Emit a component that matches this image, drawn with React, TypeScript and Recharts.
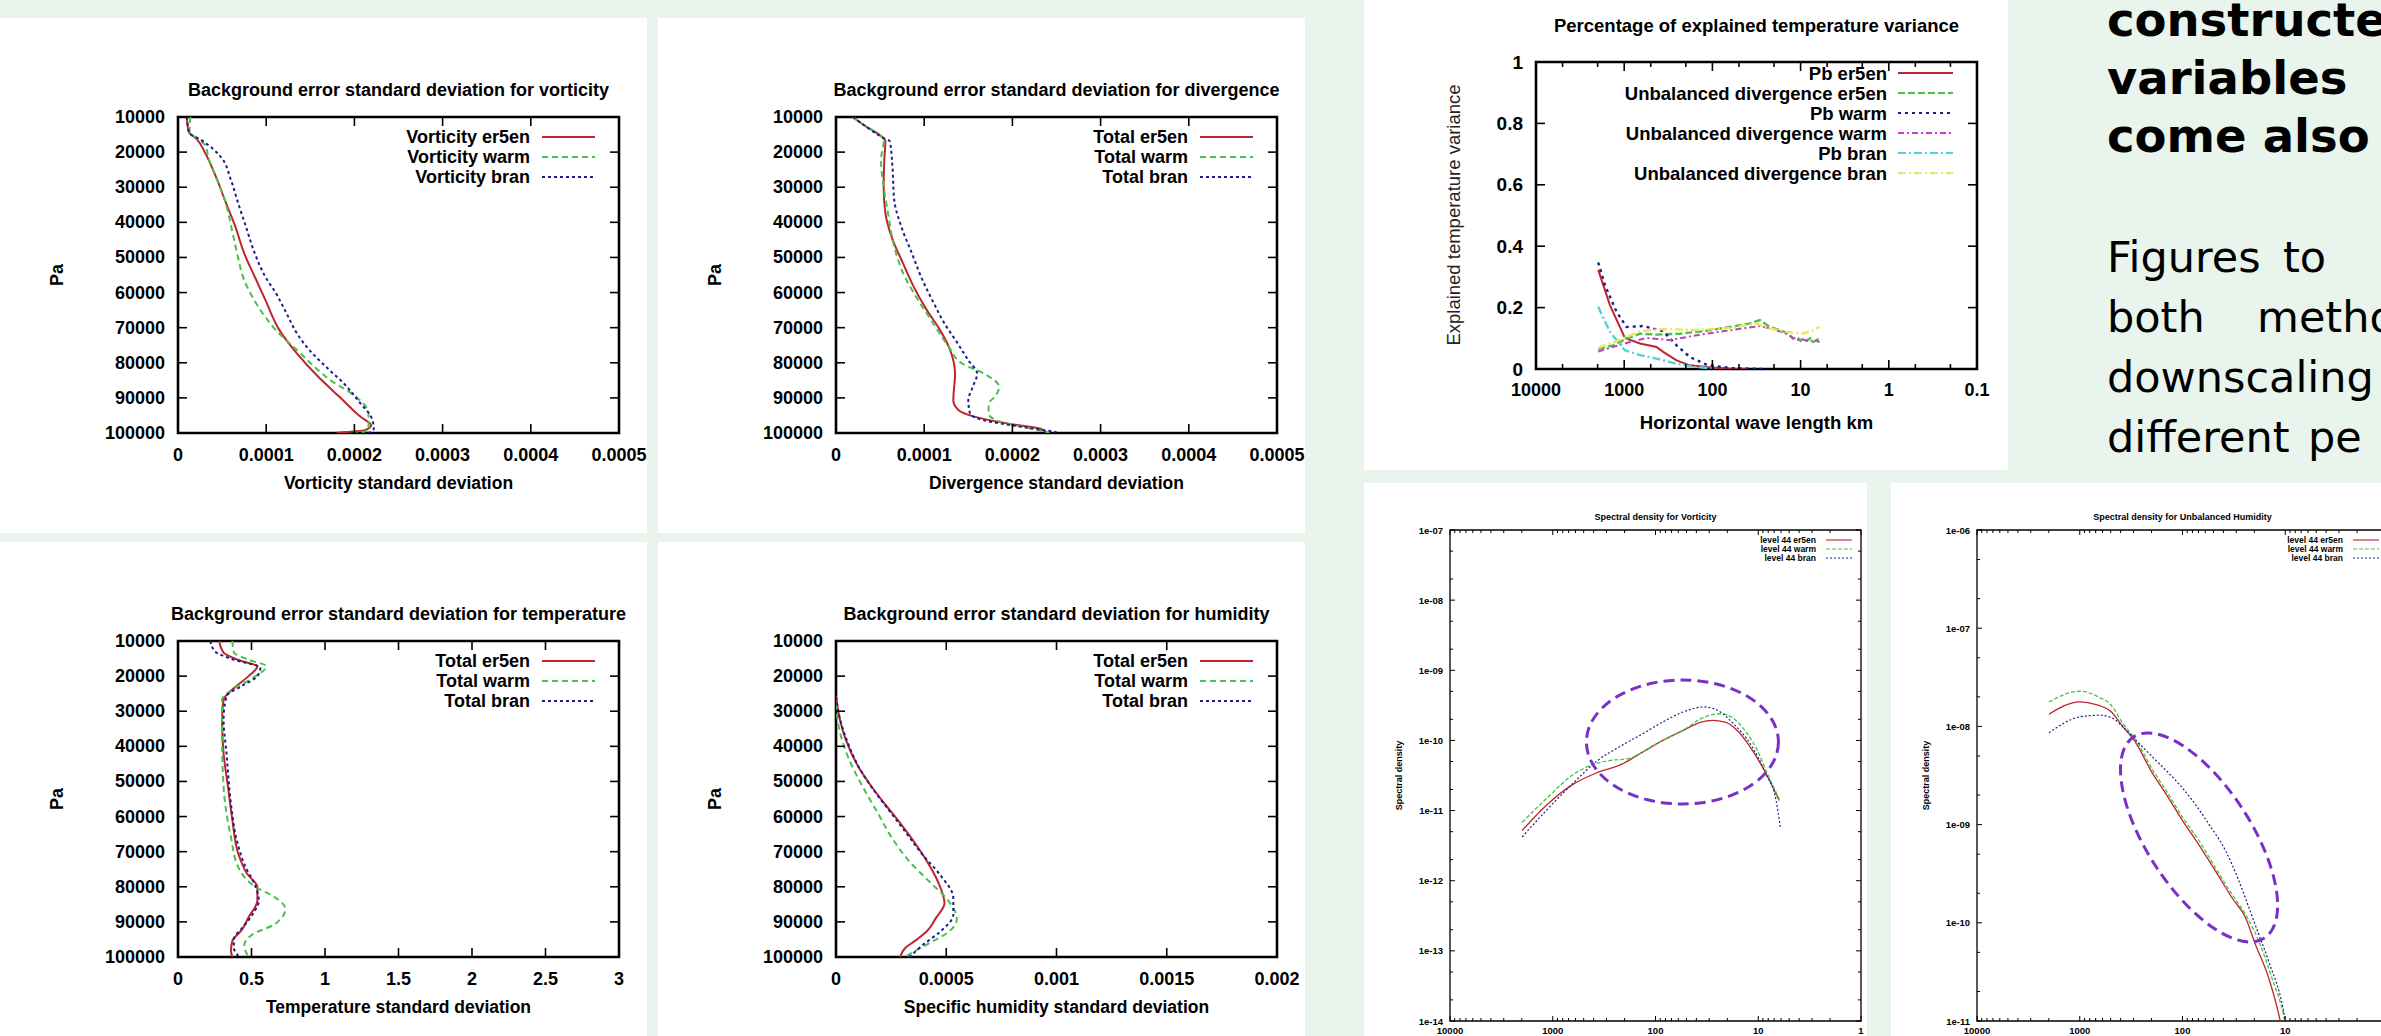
import { Line, LineChart, ReferenceArea, ReferenceDot, XAxis, YAxis } from "recharts";

type Pt = [number, number];

const GNU_FONT = '"Liberation Sans", Arial, Helvetica, sans-serif';
const POSTER_FONT = '"DejaVu Sans", Verdana, sans-serif';
const POSTER_BG = "#e9f4ec";

const RED = "#c0242c";
const GREEN = "#48c248";
const BLUE = "#1e1e8a";
const MAGENTA = "#c23ec2";
const CYAN = "#4ed4dc";
const YELLOW = "#ece65c";
const PURPLE = "#7a30c8";

/* ---------- vertical profiles (x = std dev, y = Pa) ---------- */
const PRESSURE_TICKS = [10000, 20000, 30000, 40000, 50000, 60000, 70000, 80000, 90000, 100000];
const VORT_TICKS = [0, 0.0001, 0.0002, 0.0003, 0.0004, 0.0005];
const DIV_TICKS = [0, 0.0001, 0.0002, 0.0003, 0.0004, 0.0005];
const TEMP_TICKS = [0, 0.5, 1, 1.5, 2, 2.5, 3];
const HUM_TICKS = [0, 0.0005, 0.001, 0.0015, 0.002];

const vortEr5en: Pt[] = [
  [0.10e-4, 10000], [0.12e-4, 14100], [0.22e-4, 16500], [0.31e-4, 20300], [0.43e-4, 27000],
  [0.53e-4, 33600], [0.65e-4, 41200], [0.75e-4, 48800], [0.87e-4, 55500], [0.99e-4, 62100],
  [1.15e-4, 70700], [1.35e-4, 77400], [1.59e-4, 84000], [1.83e-4, 89700], [2.07e-4, 95400],
  [2.19e-4, 97800], [2.12e-4, 99200], [1.80e-4, 99900],
];
const vortWarm: Pt[] = [
  [0.14e-4, 10000], [0.13e-4, 14100], [0.24e-4, 16500], [0.32e-4, 18400], [0.34e-4, 21200],
  [0.43e-4, 27000], [0.53e-4, 33600], [0.62e-4, 43100], [0.67e-4, 48800], [0.75e-4, 56400],
  [0.91e-4, 64000], [1.11e-4, 70700], [1.35e-4, 76400], [1.59e-4, 82100], [1.73e-4, 85000],
  [1.97e-4, 88800], [2.16e-4, 94400], [2.16e-4, 99200], [2.02e-4, 100000],
];
const vortBran: Pt[] = [
  [0.10e-4, 10000], [0.13e-4, 14600], [0.26e-4, 16500], [0.48e-4, 21200], [0.60e-4, 27900],
  [0.67e-4, 33600], [0.77e-4, 41200], [0.87e-4, 48800], [0.99e-4, 55500], [1.11e-4, 60200],
  [1.23e-4, 65900], [1.35e-4, 71700], [1.49e-4, 76400], [1.68e-4, 81200], [1.88e-4, 85900],
  [2.07e-4, 91600], [2.19e-4, 95400], [2.22e-4, 98800], [2.16e-4, 100000],
];

const divEr5en: Pt[] = [
  [0.19e-4, 10000], [0.34e-4, 12700], [0.49e-4, 15000], [0.56e-4, 16900], [0.55e-4, 21200],
  [0.54e-4, 29800], [0.56e-4, 37400], [0.63e-4, 44100], [0.76e-4, 51700], [0.88e-4, 58300],
  [1.03e-4, 65000], [1.18e-4, 70700], [1.28e-4, 75500], [1.33e-4, 79300], [1.35e-4, 83100],
  [1.33e-4, 90700], [1.39e-4, 93500], [1.58e-4, 95400], [1.97e-4, 97400], [2.32e-4, 98800],
  [2.39e-4, 100000],
];
const divWarm: Pt[] = [
  [0.19e-4, 10000], [0.34e-4, 12700], [0.49e-4, 15000], [0.54e-4, 16900], [0.51e-4, 22200],
  [0.54e-4, 29800], [0.59e-4, 37400], [0.66e-4, 46900], [0.78e-4, 55500], [0.93e-4, 62100],
  [1.08e-4, 67900], [1.28e-4, 75500], [1.43e-4, 80200], [1.68e-4, 83100], [1.85e-4, 86900],
  [1.80e-4, 89700], [1.73e-4, 91600], [1.73e-4, 94500], [1.88e-4, 96900], [2.22e-4, 98800],
  [2.42e-4, 100000],
];
const divBran: Pt[] = [
  [0.19e-4, 10000], [0.34e-4, 12700], [0.54e-4, 16000], [0.61e-4, 16900], [0.64e-4, 24100],
  [0.66e-4, 33600], [0.74e-4, 41200], [0.86e-4, 48800], [0.98e-4, 56400], [1.11e-4, 63100],
  [1.23e-4, 68800], [1.38e-4, 74500], [1.50e-4, 79300], [1.60e-4, 83100], [1.55e-4, 86900],
  [1.50e-4, 90700], [1.52e-4, 94500], [1.68e-4, 96400], [2.12e-4, 98300], [2.50e-4, 99700],
];

const tempEr5en: Pt[] = [
  [0.28, 10000], [0.31, 13300], [0.43, 15700], [0.54, 17200], [0.48, 20000], [0.37, 23800],
  [0.31, 26700], [0.30, 32400], [0.31, 42000], [0.34, 51500], [0.37, 61000], [0.41, 70600],
  [0.47, 76300], [0.54, 80100], [0.54, 83900], [0.48, 88700], [0.43, 92500], [0.37, 95400],
  [0.36, 98300], [0.37, 100000],
];
const tempWarm: Pt[] = [
  [0.37, 10000], [0.38, 13300], [0.47, 15200], [0.60, 17200], [0.51, 20500], [0.37, 23800],
  [0.30, 26700], [0.30, 37200], [0.31, 51500], [0.36, 65800], [0.41, 74400], [0.53, 80100],
  [0.66, 83000], [0.73, 86300], [0.66, 90600], [0.51, 93500], [0.45, 96800], [0.48, 100000],
];
const tempBran: Pt[] = [
  [0.22, 10000], [0.25, 12900], [0.37, 15200], [0.56, 17600], [0.54, 20000], [0.43, 22900],
  [0.33, 25700], [0.31, 32400], [0.33, 42000], [0.36, 56300], [0.40, 66800], [0.46, 74400],
  [0.52, 79200], [0.55, 83900], [0.51, 87700], [0.44, 91600], [0.38, 94900], [0.38, 97300],
  [0.41, 99700],
];

const humEr5en: Pt[] = [
  [0, 25600], [0.000016, 31800], [0.000046, 38400], [0.000095, 45100], [0.000165, 51800],
  [0.000224, 56600], [0.000284, 61300], [0.000353, 67100], [0.000413, 72800], [0.000462, 78500],
  [0.000492, 84700], [0.000452, 89000], [0.000413, 92600], [0.000363, 95200], [0.000313, 97500],
  [0.00029, 100000],
];
const humWarm: Pt[] = [
  [0, 27900], [0.000016, 35500], [0.000056, 43200], [0.000115, 50800], [0.000185, 58500],
  [0.000254, 66100], [0.000333, 72800], [0.000423, 78500], [0.000512, 84200], [0.000548, 89000],
  [0.000512, 92800], [0.000433, 95700], [0.000353, 98500], [0.000313, 100000],
];
const humBran: Pt[] = [
  [0, 26000], [0.00002, 32700], [0.000056, 39400], [0.000105, 46100], [0.000175, 52800],
  [0.000244, 58500], [0.000313, 64200], [0.000393, 70900], [0.000472, 76600], [0.000532, 83200],
  [0.000532, 88000], [0.000472, 92800], [0.000393, 96600], [0.000333, 100000],
];

/* ---------- explained temperature variance (x = wave length km) ---------- */
const VARIANCE_X_TICKS = [10000, 5000, 2000, 1000, 500, 200, 100, 50, 20, 10, 5, 2, 1, 0.5, 0.2, 0.1];
const VARIANCE_Y_TICKS = [0, 0.2, 0.4, 0.6, 0.8, 1];

const pbEr5en: Pt[] = [
  [1970, 0.323], [1452, 0.208], [982, 0.101], [664, 0.083], [430, 0.072], [361, 0.056],
  [255, 0.028], [180, 0.012], [117, 0.0065], [63, 0.001], [41, 0],
];
const udEr5en: Pt[] = [
  [1970, 0.066], [1330, 0.077], [940, 0.099], [664, 0.115], [430, 0.112], [234, 0.115],
  [127, 0.123], [63, 0.137], [38, 0.148], [29, 0.159], [22.4, 0.137], [15.8, 0.123],
  [13.5, 0.113], [12.2, 0.099], [11, 0.105], [10, 0.092], [9.4, 0.099], [8.5, 0.092],
  [7.8, 0.1], [7.2, 0.088], [6.5, 0.095], [6.1, 0.101],
];
const pbWarm: Pt[] = [
  [1970, 0.347], [1652, 0.273], [1219, 0.186], [940, 0.137], [609, 0.14], [361, 0.123],
  [255, 0.077], [180, 0.039], [117, 0.014], [63, 0.003], [27, 0],
];
const udWarm: Pt[] = [
  [1970, 0.057], [1330, 0.072], [861, 0.088], [558, 0.101], [304, 0.094], [151, 0.11],
  [76, 0.123], [41, 0.134], [29, 0.14], [20.5, 0.13], [14.5, 0.115], [11.2, 0.094],
  [9.6, 0.097], [7.9, 0.09], [6.9, 0.094], [6.1, 0.088],
];
const pbBran: Pt[] = [
  [1970, 0.203], [1452, 0.121], [982, 0.061], [664, 0.045], [430, 0.034], [255, 0.017],
  [151, 0.0065], [90, 0.001],
];
const udBran: Pt[] = [
  [1970, 0.069], [1026, 0.099], [664, 0.123], [361, 0.13], [151, 0.127], [63, 0.134],
  [31.7, 0.148], [22.4, 0.132], [14.5, 0.121], [9.4, 0.115], [7.2, 0.126], [6.1, 0.137],
];

/* ---------- spectral densities (x = wave length km) ---------- */
const SPECTRAL_X_TICKS = [
  10000, 9000, 8000, 7000, 6000, 5000, 4000, 3000, 2000, 1000, 900, 800, 700, 600, 500, 400, 300, 200,
  100, 90, 80, 70, 60, 50, 40, 30, 20, 10, 9, 8, 7, 6, 5, 4, 3, 2, 1,
];
const VORT_SPEC_Y_TICKS = [
  1e-7, 5e-8, 2e-8, 1e-8, 5e-9, 2e-9, 1e-9, 5e-10, 2e-10, 1e-10, 5e-11, 2e-11, 1e-11, 5e-12, 2e-12,
  1e-12, 5e-13, 2e-13, 1e-13, 5e-14, 2e-14, 1e-14,
];
const HUM_SPEC_Y_TICKS = [
  1e-6, 5e-7, 2e-7, 1e-7, 5e-8, 2e-8, 1e-8, 5e-9, 2e-9, 1e-9, 5e-10, 2e-10, 1e-10, 5e-11, 2e-11, 1e-11,
];

const vortSpecEr5en: Pt[] = [
  [1985, 5.2e-12], [1159, 1.18e-11], [625, 2.4e-11], [365, 3.5e-11], [212, 4.6e-11], [134, 6.8e-11],
  [85, 1.0e-10], [54, 1.39e-10], [36, 1.83e-10], [28, 1.93e-10], [21, 1.83e-10], [15.5, 1.32e-10],
  [11.4, 7.2e-11], [8.7, 3.7e-11], [7.2, 2.15e-11], [6.25, 1.39e-11],
];
const vortSpecWarm: Pt[] = [
  [1985, 6.8e-12], [1159, 1.47e-11], [625, 3.3e-11], [396, 4.6e-11], [272, 5.2e-11], [184, 5.5e-11],
  [134, 6.8e-11], [85, 1.0e-10], [54, 1.39e-10], [33.7, 2.15e-10], [22.8, 2.4e-10], [18.2, 2.15e-10],
  [13.5, 1.39e-10], [10.2, 7.2e-11], [8.1, 3.3e-11], [6.25, 1.47e-11],
];
const vortSpecBran: Pt[] = [
  [1985, 4.2e-12], [1159, 1.0e-11], [625, 2.5e-11], [365, 5.2e-11], [212, 8.5e-11], [134, 1.24e-10],
  [85, 1.83e-10], [54, 2.54e-10], [33.7, 3.0e-10], [24.9, 2.68e-10], [17.4, 1.73e-10], [11.4, 8.0e-11],
  [8.4, 3.3e-11], [6.7, 1.39e-11], [6.1, 5.8e-12],
];

const humSpecEr5en: Pt[] = [
  [1995, 1.33e-8], [1000, 1.78e-8], [692, 1.67e-8], [494, 1.41e-8], [380, 9.9e-9], [295, 7.2e-9],
  [195, 3.3e-9], [145, 2.06e-9], [100, 1.1e-9], [74, 6.9e-10], [48, 3.4e-10], [33, 1.8e-10],
  [24.4, 1.13e-10], [19.5, 6.0e-11], [14.5, 2.75e-11], [11.2, 1e-11], [10.5, 7e-12],
];
const humSpecWarm: Pt[] = [
  [1995, 1.78e-8], [1000, 2.28e-8], [662, 2.0e-8], [494, 1.64e-8], [380, 1.07e-8], [283, 7.2e-9],
  [195, 3.6e-9], [145, 2.23e-9], [100, 1.19e-9], [69, 6.85e-10], [48, 3.66e-10], [33, 1.95e-10],
  [24.4, 1.22e-10], [18.1, 6.5e-11], [13.5, 2.75e-11], [10.1, 1e-11], [9.5, 7e-12],
];
const humSpecBran: Pt[] = [
  [1995, 8.6e-9], [1000, 1.25e-8], [640, 1.3e-8], [494, 1.23e-8], [380, 9.9e-9], [283, 7.2e-9],
  [181, 4.5e-9], [116, 2.8e-9], [80, 1.76e-9], [55, 1.0e-9], [38, 5.4e-10], [28.3, 2.68e-10],
  [22.6, 1.43e-10], [18.1, 7.6e-11], [14.5, 4.07e-11], [10, 1e-11], [9.5, 7e-12],
];

// purple circled areas: centre in data coords, radii in px, rotation in degrees
const VORT_ELLIPSE = { x: 54.7, y: 9.5e-11, rx: 96, ry: 62, rot: 0 };
const HUM_ELLIPSE = { x: 69, y: 7.4e-10, rx: 120, ry: 52, rot: 57 };

const POSTER_BOLD = ["constructe", "variables", "come also"];
const POSTER_TEXT: string[][] = [["Figures", "to"], ["both", "metho"], ["downscaling"], ["different", "pe"]];
const POSTER_WORD_X = [[26, 202], [26, 176], [26], [26, 227]];

/* ---------- helpers ---------- */
const toPts = (rows: Pt[]) => rows.map(([x, y]) => ({ x, y }));

const isDecade = (v: number) => {
  const l = Math.log10(v);
  return Math.abs(l - Math.round(l)) < 1e-6;
};

type Series = { name: string; color: string; dash?: string; width: number; data: Pt[] };

type Deco = {
  plotW: number;
  plotH: number;
  major: number;
  minor: number;
  gap: number;
  fontSize: number;
  strokeW: number;
  fmt: (v: number) => string;
  isMinor?: (v: number) => boolean;
  labelMaxX?: number;
};

function XTick(props: any) {
  const { x, y, payload, deco } = props as { x: number; y: number; payload: { value: number }; deco: Deco };
  const minor = deco.isMinor ? deco.isMinor(payload.value) : false;
  const len = minor ? deco.minor : deco.major;
  const showLabel = !minor && (deco.labelMaxX === undefined || x <= deco.labelMaxX);
  return (
    <g>
      <line x1={x} y1={y} x2={x} y2={y - len} stroke="#000" strokeWidth={deco.strokeW} />
      <line x1={x} y1={y - deco.plotH} x2={x} y2={y - deco.plotH + len} stroke="#000" strokeWidth={deco.strokeW} />
      {showLabel && (
        <text x={x} y={y + deco.gap} textAnchor="middle" dominantBaseline="central" fontSize={deco.fontSize}
          fontFamily={GNU_FONT} fontWeight={700} fill="#000">
          {deco.fmt(payload.value)}
        </text>
      )}
    </g>
  );
}

function YTick(props: any) {
  const { x, y, payload, deco } = props as { x: number; y: number; payload: { value: number }; deco: Deco };
  const minor = deco.isMinor ? deco.isMinor(payload.value) : false;
  const len = minor ? deco.minor : deco.major;
  return (
    <g>
      <line x1={x} y1={y} x2={x + len} y2={y} stroke="#000" strokeWidth={deco.strokeW} />
      <line x1={x + deco.plotW} y1={y} x2={x + deco.plotW - len} y2={y} stroke="#000" strokeWidth={deco.strokeW} />
      {!minor && (
        <text x={x - deco.gap} y={y} textAnchor="end" dominantBaseline="central" fontSize={deco.fontSize}
          fontFamily={GNU_FONT} fontWeight={700} fill="#000">
          {deco.fmt(payload.value)}
        </text>
      )}
    </g>
  );
}

function Legend({ items, right, top, step, x1, x2, fontSize, lineW }: {
  items: Series[]; right: number; top: number; step: number; x1: number; x2: number; fontSize: number; lineW: number;
}) {
  return (
    <g>
      {items.map((s, i) => (
        <g key={s.name}>
          <text x={right} y={top + i * step} textAnchor="end" dominantBaseline="central" fontSize={fontSize}
            fontFamily={GNU_FONT} fontWeight={700} fill="#000">
            {s.name}
          </text>
          <line x1={x1} x2={x2} y1={top + i * step} y2={top + i * step} stroke={s.color} strokeWidth={lineW}
            strokeDasharray={s.dash} />
        </g>
      ))}
    </g>
  );
}

function Panel({ left, top, width, height, children }: {
  left: number; top: number; width: number; height: number; children: React.ReactNode;
}) {
  return (
    <div style={{ position: "absolute", left, top, width, height, background: "#fff", overflow: "hidden" }}>
      {children}
    </div>
  );
}

function Overlay({ w, h, children }: { w: number; h: number; children: React.ReactNode }) {
  return (
    <svg width={w} height={h} style={{ position: "absolute", left: 0, top: 0, pointerEvents: "none" }}>
      {children}
    </svg>
  );
}

/* ---------- profile chart ---------- */
const PW = 647;
const P_LEFT = 178;
const P_TOP = 99;
const P_W = 441;
const P_H = 316;

function ProfileChart({ left, top, height, title, xLabel, xTicks, series }: {
  left: number; top: number; height: number; title: string; xLabel: string; xTicks: number[]; series: Series[];
}) {
  const xMax = xTicks[xTicks.length - 1];
  const deco: Deco = { plotW: P_W, plotH: P_H, major: 9, minor: 9, gap: 22, fontSize: 18, strokeW: 1.6, fmt: (v) => String(v) };
  return (
    <Panel left={left} top={top} width={PW} height={height}>
      <LineChart width={PW} height={height}
        margin={{ top: P_TOP, right: PW - P_LEFT - P_W, bottom: height - P_TOP - P_H - 20, left: 0 }}>
        <XAxis type="number" dataKey="x" domain={[0, xMax]} ticks={xTicks} interval={0} height={20}
          tickSize={0} tickMargin={0} axisLine={false} tickLine={false} allowDataOverflow
          tick={<XTick deco={deco} />} />
        <YAxis type="number" domain={[10000, 100000]} reversed ticks={PRESSURE_TICKS} interval={0} width={P_LEFT}
          tickSize={0} tickMargin={0} axisLine={false} tickLine={false} allowDataOverflow
          tick={<YTick deco={{ ...deco, gap: 13 }} />} />
        {series.map((s) => (
          <Line key={s.name} data={toPts(s.data)} dataKey="y" type="monotoneY" stroke={s.color} strokeWidth={s.width}
            strokeDasharray={s.dash} dot={false} isAnimationActive={false} />
        ))}
        <ReferenceArea x1={0} x2={xMax} y1={10000} y2={100000} fill="none" stroke="#000" strokeWidth={2.6}
          fillOpacity={0} />
      </LineChart>
      <Overlay w={PW} h={height}>
        <text x={P_LEFT + P_W / 2} y={72} textAnchor="middle" dominantBaseline="central" fontSize={18}
          fontFamily={GNU_FONT} fontWeight={700}>{title}</text>
        <text x={P_LEFT + P_W / 2} y={465} textAnchor="middle" dominantBaseline="central" fontSize={17.5}
          fontFamily={GNU_FONT} fontWeight={700}>{xLabel}</text>
        <text x={57} y={P_TOP + P_H / 2} textAnchor="middle" dominantBaseline="central" fontSize={18}
          fontFamily={GNU_FONT} fontWeight={700} transform={`rotate(-90 57 ${P_TOP + P_H / 2})`}>Pa</text>
        <Legend items={series} right={530} top={119} step={20} x1={542} x2={595} fontSize={18} lineW={2} />
      </Overlay>
    </Panel>
  );
}

/* ---------- variance chart ---------- */
const V_PANEL = { left: 1364, top: 0, w: 644, h: 470 };
const V_LEFT = 172;
const V_TOP = 62;
const V_W = 441;
const V_H = 307;

function VarianceChart({ series }: { series: Series[] }) {
  const { w, h } = V_PANEL;
  const deco: Deco = {
    plotW: V_W, plotH: V_H, major: 9, minor: 5, gap: 21, fontSize: 18, strokeW: 1.6,
    fmt: (v) => String(v), isMinor: (v) => !isDecade(v),
  };
  return (
    <Panel left={V_PANEL.left} top={V_PANEL.top} width={w} height={h}>
      <LineChart width={w} height={h} margin={{ top: V_TOP, right: w - V_LEFT - V_W, bottom: h - V_TOP - V_H - 20, left: 0 }}>
        <XAxis type="number" dataKey="x" scale="log" domain={[0.1, 10000]} reversed ticks={VARIANCE_X_TICKS}
          interval={0} height={20} tickSize={0} tickMargin={0} axisLine={false} tickLine={false} allowDataOverflow
          tick={<XTick deco={deco} />} />
        <YAxis type="number" domain={[0, 1]} ticks={VARIANCE_Y_TICKS} interval={0} width={V_LEFT} tickSize={0}
          tickMargin={0} axisLine={false} tickLine={false} allowDataOverflow
          tick={<YTick deco={{ ...deco, gap: 13, fontSize: 19, isMinor: undefined }} />} />
        {series.map((s) => (
          <Line key={s.name} data={toPts(s.data)} dataKey="y" type="linear" stroke={s.color} strokeWidth={s.width}
            strokeDasharray={s.dash} dot={false} isAnimationActive={false} />
        ))}
        <ReferenceArea x1={0.1} x2={10000} y1={0} y2={1} fill="none" fillOpacity={0} stroke="#000" strokeWidth={2.6} />
      </LineChart>
      <Overlay w={w} h={h}>
        <text x={V_LEFT + V_W / 2} y={25} textAnchor="middle" dominantBaseline="central" fontSize={18.5}
          fontFamily={GNU_FONT} fontWeight={700}>Percentage of explained temperature variance</text>
        <text x={V_LEFT + V_W / 2} y={422} textAnchor="middle" dominantBaseline="central" fontSize={18.5}
          fontFamily={GNU_FONT} fontWeight={700}>Horizontal wave length km</text>
        <text x={89} y={215} textAnchor="middle" dominantBaseline="central" fontSize={18.5} fill="#222"
          fontFamily={GNU_FONT} transform="rotate(-90 89 215)">Explained temperature variance</text>
        <Legend items={series} right={523} top={73} step={20} x1={534} x2={589} fontSize={18.5} lineW={2} />
      </Overlay>
    </Panel>
  );
}

/* ---------- spectral density chart ---------- */
const S_W = 503;
const S_H = 553;
const S_LEFT = 86;
const S_TOP = 47;
const S_PW = 411;
const S_PH = 491;

const fmtExp = (v: number) => `1e-${String(Math.round(-Math.log10(v))).padStart(2, "0")}`;

function SpectralChart({ left, title, yDomain, yTicks, series, ellipse, visibleW }: {
  left: number; title: string; yDomain: [number, number]; yTicks: number[]; series: Series[];
  ellipse: { x: number; y: number; rx: number; ry: number; rot: number }; visibleW: number;
}) {
  const deco: Deco = {
    plotW: S_PW, plotH: S_PH, major: 5, minor: 3, gap: 9, fontSize: 9.5, strokeW: 1,
    fmt: (v) => String(v), isMinor: (v) => !isDecade(v), labelMaxX: visibleW - 6,
  };
  return (
    <Panel left={left} top={483} width={S_W} height={S_H}>
      <LineChart width={S_W} height={S_H} margin={{ top: S_TOP, right: S_W - S_LEFT - S_PW, bottom: S_H - S_TOP - S_PH - 5, left: 0 }}>
        <XAxis type="number" dataKey="x" scale="log" domain={[1, 10000]} reversed ticks={SPECTRAL_X_TICKS}
          interval={0} height={5} tickSize={0} tickMargin={0} axisLine={false} tickLine={false} allowDataOverflow
          tick={<XTick deco={deco} />} />
        <YAxis type="number" scale="log" domain={yDomain} ticks={yTicks} interval={0} width={S_LEFT} tickSize={0}
          tickMargin={0} axisLine={false} tickLine={false} allowDataOverflow
          tick={<YTick deco={{ ...deco, gap: 7, fmt: fmtExp }} />} />
        {series.map((s) => (
          <Line key={s.name} data={toPts(s.data)} dataKey="y" type="monotoneX" stroke={s.color} strokeWidth={s.width}
            strokeDasharray={s.dash} dot={false} isAnimationActive={false} />
        ))}
        <ReferenceArea x1={1} x2={10000} y1={yDomain[0]} y2={yDomain[1]} fill="none" fillOpacity={0} stroke="#000"
          strokeWidth={1.3} />
        <ReferenceDot x={ellipse.x} y={ellipse.y} r={1} ifOverflow="visible"
          shape={(p: any) => (
            <ellipse cx={p.cx} cy={p.cy} rx={ellipse.rx} ry={ellipse.ry} fill="none" stroke={PURPLE} strokeWidth={3}
              strokeDasharray="11 6" transform={`rotate(${ellipse.rot} ${p.cx} ${p.cy})`} />
          )} />
      </LineChart>
      <Overlay w={S_W} h={S_H}>
        <text x={S_LEFT + S_PW / 2} y={34} textAnchor="middle" dominantBaseline="central" fontSize={9}
          fontFamily={GNU_FONT} fontWeight={700}>{title}</text>
        <text x={35} y={S_TOP + S_PH / 2} textAnchor="middle" dominantBaseline="central" fontSize={9}
          fontFamily={GNU_FONT} fontWeight={700} transform={`rotate(-90 35 ${S_TOP + S_PH / 2})`}>Spectral density</text>
        <Legend items={series} right={452} top={57} step={9} x1={462} x2={488} fontSize={8.5} lineW={1.1} />
      </Overlay>
    </Panel>
  );
}

/* ---------- series definitions ---------- */
const profileSeries = (prefix: string, er5en: Pt[], warm: Pt[], bran: Pt[]): Series[] => [
  { name: `${prefix} er5en`, color: RED, width: 2, data: er5en },
  { name: `${prefix} warm`, color: GREEN, width: 2, dash: "6 4", data: warm },
  { name: `${prefix} bran`, color: BLUE, width: 2, dash: "3 3", data: bran },
];

const varianceSeries: Series[] = [
  { name: "Pb er5en", color: RED, width: 2, data: pbEr5en },
  { name: "Unbalanced divergence er5en", color: GREEN, width: 2.4, dash: "7 3", data: udEr5en },
  { name: "Pb warm", color: BLUE, width: 2.4, dash: "3 4", data: pbWarm },
  { name: "Unbalanced divergence warm", color: MAGENTA, width: 2, dash: "6 3 2 3", data: udWarm },
  { name: "Pb bran", color: CYAN, width: 2.4, dash: "8 3 2 3", data: pbBran },
  { name: "Unbalanced divergence bran", color: YELLOW, width: 2.4, dash: "8 3 2 3", data: udBran },
];

const spectralSeries = (er5en: Pt[], warm: Pt[], bran: Pt[]): Series[] => [
  { name: "level 44 er5en", color: RED, width: 1.3, data: er5en },
  { name: "level 44 warm", color: GREEN, width: 1.3, dash: "4 2", data: warm },
  { name: "level 44 bran", color: BLUE, width: 1.2, dash: "2 2", data: bran },
];

export default function App() {
  return (
    <div style={{ position: "absolute", left: 0, top: 0, width: 2381, height: 1036, overflow: "hidden", background: POSTER_BG }}>
      <ProfileChart left={0} top={18} height={515} title="Background error standard deviation for vorticity"
        xLabel="Vorticity standard deviation" xTicks={VORT_TICKS} series={profileSeries("Vorticity", vortEr5en, vortWarm, vortBran)} />
      <ProfileChart left={658} top={18} height={515} title="Background error standard deviation for divergence"
        xLabel="Divergence standard deviation" xTicks={DIV_TICKS} series={profileSeries("Total", divEr5en, divWarm, divBran)} />
      <ProfileChart left={0} top={542} height={494} title="Background error standard deviation for temperature"
        xLabel="Temperature standard deviation" xTicks={TEMP_TICKS} series={profileSeries("Total", tempEr5en, tempWarm, tempBran)} />
      <ProfileChart left={658} top={542} height={494} title="Background error standard deviation for humidity"
        xLabel="Specific humidity standard deviation" xTicks={HUM_TICKS} series={profileSeries("Total", humEr5en, humWarm, humBran)} />

      <VarianceChart series={varianceSeries} />

      <SpectralChart left={1364} title="Spectral density for Vorticity" yDomain={[1e-14, 1e-7]} yTicks={VORT_SPEC_Y_TICKS}
        series={spectralSeries(vortSpecEr5en, vortSpecWarm, vortSpecBran)} ellipse={VORT_ELLIPSE} visibleW={S_W} />
      <SpectralChart left={1891} title="Spectral density for Unbalanced Humidity" yDomain={[1e-11, 1e-6]} yTicks={HUM_SPEC_Y_TICKS}
        series={spectralSeries(humSpecEr5en, humSpecWarm, humSpecBran)} ellipse={HUM_ELLIPSE} visibleW={2381 - 1891} />

      <svg width={300} height={480} style={{ position: "absolute", left: 2081, top: 0 }}>
        {POSTER_BOLD.map((line, i) => (
          <text key={line} x={26} y={36 + i * 58} fontFamily={POSTER_FONT} fontWeight={700} fontSize={46.5} fill="#000">
            {line}
          </text>
        ))}
        {POSTER_TEXT.map((words, i) =>
          words.map((word, j) => (
            <text key={word} x={POSTER_WORD_X[i][j]} y={272 + i * 60} fontFamily={POSTER_FONT} fontSize={43} fill="#000">
              {word}
            </text>
          )),
        )}
      </svg>
    </div>
  );
}
